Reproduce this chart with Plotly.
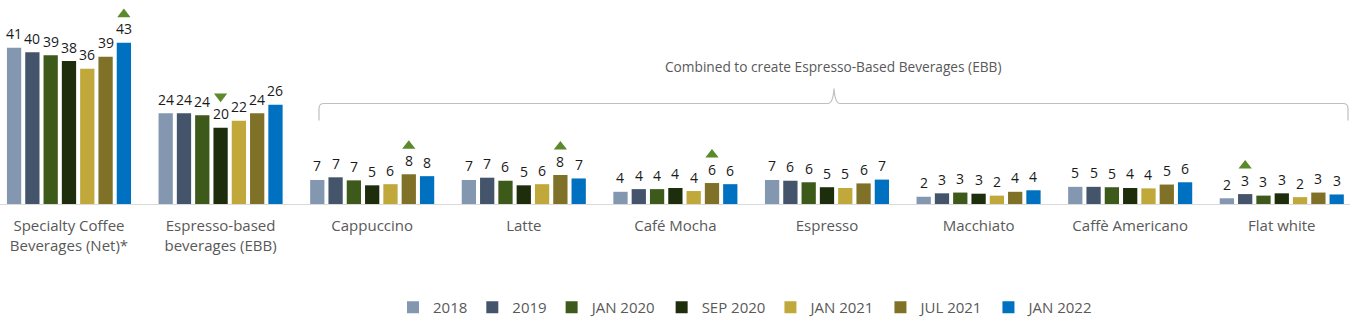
import plotly.graph_objects as go

# ---------------- data ----------------
categories = [
    "Specialty Coffee<br>Beverages (Net)*",
    "Espresso-based<br>beverages (EBB)",
    "Cappuccino", "Latte", "Café Mocha", "Espresso",
    "Macchiato", "Caffè Americano", "Flat white",
]
series_names = ["2018", "2019", "JAN 2020", "SEP 2020", "JAN 2021", "JUL 2021", "JAN 2022"]
series_colors = ["#8497b0", "#44546a", "#3d5a1b", "#1e2d0c", "#c0a93a", "#7f7128", "#0070c0"]

# bar heights
v_2018    = [41.0, 23.8, 6.3, 6.3, 3.2, 6.3, 1.9, 4.5, 1.5]
v_2019    = [39.8, 23.8, 7.0, 6.9, 3.9, 6.1, 2.8, 4.5, 2.6]
v_jan2020 = [39.0, 23.3, 6.2, 6.1, 3.9, 5.7, 3.0, 4.4, 2.2]
v_sep2020 = [37.5, 20.0, 4.9, 4.9, 4.2, 4.4, 2.7, 4.2, 2.8]
v_jan2021 = [35.5, 21.8, 5.2, 5.2, 3.4, 4.2, 2.2, 4.1, 1.8]
v_jul2021 = [38.6, 23.8, 7.8, 7.6, 5.5, 5.4, 3.2, 5.1, 3.0]
v_jan2022 = [42.3, 26.0, 7.3, 6.7, 5.2, 6.4, 3.6, 5.7, 2.5]

# printed labels
l_2018    = [41, 24, 7, 7, 4, 7, 2, 5, 2]
l_2019    = [40, 24, 7, 7, 4, 6, 3, 5, 3]
l_jan2020 = [39, 24, 7, 6, 4, 6, 3, 5, 3]
l_sep2020 = [38, 20, 5, 5, 4, 5, 3, 4, 3]
l_jan2021 = [36, 22, 6, 6, 4, 5, 2, 4, 2]
l_jul2021 = [39, 24, 8, 8, 6, 6, 4, 5, 3]
l_jan2022 = [43, 26, 8, 7, 6, 7, 4, 6, 3]

values = [v_2018, v_2019, v_jan2020, v_sep2020, v_jan2021, v_jul2021, v_jan2022]
labels = [l_2018, l_2019, l_jan2020, l_sep2020, l_jan2021, l_jul2021, l_jan2022]

# significance markers: (category index, series index, direction)
sig_marks = [(0, 6, "up"), (1, 3, "down"), (2, 5, "up"), (3, 5, "up"), (4, 5, "up"), (8, 1, "up")]

bracket_text = "Combined to create Espresso-Based Beverages (EBB)"

# ---------------- layout constants ----------------
W, H = 1364, 324
ML, MR, MT, MB = 0, 14, 0, 119
PW, PH = W - ML - MR, H - MT - MB
X_RANGE = [-0.455, 8.45]
Y_RANGE = [0, 53.5]
BARGAP = 0.155
BARGROUPGAP = 0.22
FONT = "Segoe UI, Open Sans, Noto Sans, sans-serif"
GREY = "#595959"
SIG_COLOR = "#5a8a2a"

px_per_cat = PW / (X_RANGE[1] - X_RANGE[0])
px_per_unit = PH / (Y_RANGE[1] - Y_RANGE[0])
slot = (1 - BARGAP) * px_per_cat / len(series_names)


def px(x):
    return x / PW


def py(y):
    return (PH - y) / PH


fig = go.Figure()
for name, col, vals in zip(series_names, series_colors, values):
    fig.add_trace(go.Bar(
        name=name, x=list(range(len(categories))), y=vals,
        marker=dict(color=col, line=dict(width=0)),
        hoverinfo="skip",
    ))

# significance triangles as markers
for d in ("up", "down"):
    xs, ys = [], []
    for i, j, dd in sig_marks:
        if dd != d:
            continue
        xs.append(i + (j - 3) * slot / px_per_cat)
        shift = 28.5 if d == "up" else 31.5
        ys.append(values[j][i] + shift / px_per_unit)
    fig.add_trace(go.Scatter(
        x=xs, y=ys, mode="markers", showlegend=False, hoverinfo="skip",
        cliponaxis=False,
        marker=dict(symbol="triangle-up" if d == "up" else "triangle-down",
                    size=11.5, color=SIG_COLOR, line=dict(width=0)),
    ))

annotations = []
for j, (vals, labs) in enumerate(zip(values, labels)):
    for i, (v, lab) in enumerate(zip(vals, labs)):
        annotations.append(dict(
            x=i, y=v, xref="x", yref="y", text=str(lab), showarrow=False,
            xshift=(j - 3) * slot, yshift=14, yanchor="middle",
            font=dict(family=FONT, size=14, color="#1a1a1a"),
        ))

annotations.append(dict(
    x=px(833), y=py(67), xref="paper", yref="paper", text=bracket_text,
    showarrow=False, xanchor="center", yanchor="middle",
    font=dict(family=FONT, size=13.7, color=GREY),
))


def P(x, y):
    return f"{px(x):.5f},{py(y):.5f}"


path = (
    f"M{P(319,121)} L{P(319,109)} Q{P(319,104)} {P(324,104)} "
    f"L{P(828,104)} Q{P(833,104)} {P(834,89)} Q{P(835,104)} {P(840,104)} "
    f"L{P(1343,104)} Q{P(1348,104)} {P(1348,109)} L{P(1348,121)}"
)
shapes = [dict(type="path", xref="paper", yref="paper", path=path,
               line=dict(color="#bfbfbf", width=1.2))]

fig.update_layout(
    width=W, height=H,
    margin=dict(l=ML, r=MR, t=MT, b=MB),
    barmode="group", bargap=BARGAP, bargroupgap=BARGROUPGAP,
    plot_bgcolor="white", paper_bgcolor="white",
    font=dict(family=FONT, size=15, color=GREY),
    annotations=annotations, shapes=shapes,
    showlegend=True,
    legend=dict(
        orientation="h", x=px(746), xanchor="center", y=py(309), yanchor="middle",
        font=dict(family=FONT, size=15, color=GREY),
        itemwidth=30, traceorder="normal",
    ),
    xaxis=dict(
        range=X_RANGE, tickmode="array", tickvals=list(range(len(categories))),
        ticktext=categories, showgrid=False, zeroline=False,
        showline=True, linecolor="#d9d9d9", linewidth=1,
        ticks="", ticklabelstandoff=8,
        tickfont=dict(family=FONT, size=15, color=GREY),
    ),
    yaxis=dict(range=Y_RANGE, visible=False, showgrid=False, zeroline=False),
)

fig.write_html("out.html")
